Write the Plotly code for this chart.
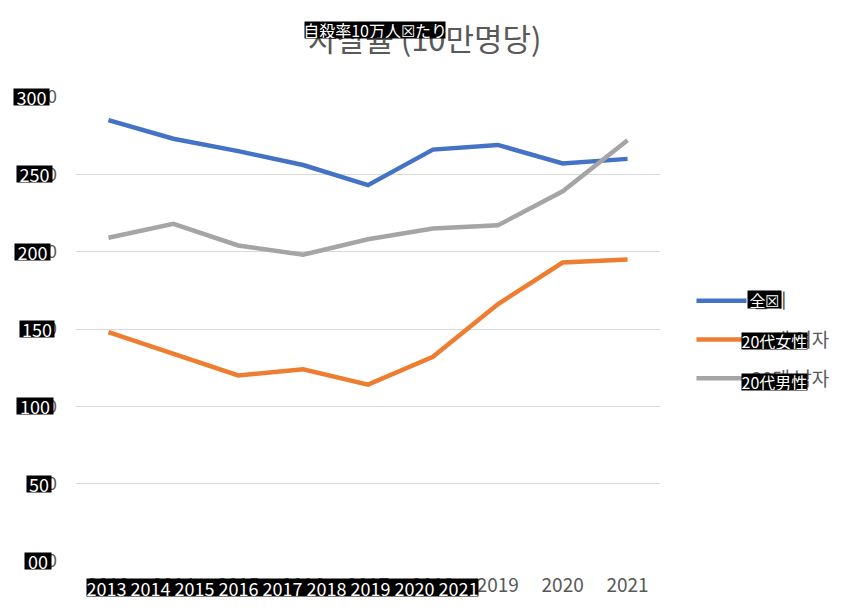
import plotly.graph_objects as go

years = ["2013", "2014", "2015", "2016", "2017", "2018", "2019", "2020", "2021"]
overall = [28.5, 27.3, 26.5, 25.6, 24.3, 26.6, 26.9, 25.7, 26.0]
women20 = [14.8, 13.4, 12.0, 12.4, 11.4, 13.2, 16.6, 19.3, 19.5]
men20 = [20.9, 21.8, 20.4, 19.8, 20.8, 21.5, 21.7, 23.9, 27.2]
series_names = ["전체", "20대 여자", "20대 남자"]
colors = ["#4472C4", "#ED7D31", "#A5A5A5"]
y_ticks = [0, 5, 10, 15, 20, 25, 30]
y_ticktext = ["0.0", "5.0", "10.0", "15.0", "20.0", "25.0", "30.0"]
title_text = "자살률 (10만명당)"

# overlay (translated) texts
ov_title = "自殺率10万人☒たり"
ov_yticks = ["00", "50", "100", "150", "200", "250", "300"]
ov_xticks = "2013 2014 2015 2016 2017 2018 2019 2020 2021"
ov_legend = ["全☒", "20代女性", "20代男性"]

KR = "Noto Sans CJK KR"
JP = "Noto Sans CJK JP"
GRAY = "#595959"

OFF = 8  # page body margin
FW, FH = 850 - OFF, 608 - OFF
# plot area in screen pixels
L, R, T, B = 75.5, 660.5, 97, 561
W = R - L
H = B - T


def px(x):
    return (x - L) / W


def py(y):
    return (B - y) / H


fig = go.Figure()
for i, (name, vals) in enumerate(zip(series_names, [overall, women20, men20])):
    fig.add_trace(go.Scatter(
        x=years, y=vals, mode="lines", name=name,
        line=dict(color=colors[i], width=4.5),
        legendgroup=str(i),
    ))

ann = []


def box(text, x0, x1, y0, y1, size, yval=None):
    d = dict(x=px((x0 + x1) / 2), xref="paper", text=text, showarrow=False,
             xanchor="center", yanchor="middle", width=x1 - x0, height=y1 - y0,
             align="center", valign="middle",
             font=dict(family=JP, size=size, color="white"), bgcolor="black", borderpad=0)
    if yval is None:
        d.update(y=py((y0 + y1) / 2), yref="paper")
    else:
        d.update(y=yval, yref="y")
    ann.append(d)


box(ov_title, 305, 445, 22, 38, 16)
ybox = {"00": (24, 50), "50": (26, 50), "100": (16, 52), "150": (19, 53),
        "200": (14, 49), "250": (16, 51), "300": (13, 48)}
for v, t in zip(y_ticks, ov_yticks):
    x0, x1 = ybox[t]
    box(t, x0, x1, 0, 16, 18, yval=v)
box(ov_xticks, 87, 478, 579, 596, 18)
box(ov_legend[0], 749, 782, 291, 308, 16)
box(ov_legend[1], 743, 808, 333, 349, 16)
box(ov_legend[2], 743, 808, 374, 390, 16)

fig.update_layout(
    width=FW, height=FH,
    margin=dict(l=L - OFF, r=FW - (R - OFF), t=T - OFF, b=FH - (B - OFF), pad=0),
    paper_bgcolor="white", plot_bgcolor="white",
    title=dict(text=title_text, x=px(425), xref="paper", xanchor="center",
               y=1 - (40 - OFF) / FH, yanchor="middle",
               font=dict(family=KR, size=31, color=GRAY)),
    xaxis=dict(type="category", range=[-0.5, 8.5], showgrid=False, showline=False,
               zeroline=False, ticks="",
               tickfont=dict(family=KR, size=19, color=GRAY), ticklabelstandoff=11),
    yaxis=dict(range=[0, 30], tickvals=y_ticks, ticktext=y_ticktext, showgrid=True,
               gridcolor="#D9D9D9", gridwidth=1, zeroline=False, showline=False, ticks="",
               tickfont=dict(family=KR, size=18, color=GRAY), ticklabelstandoff=18),
    showlegend=True,
    legend=dict(x=px(692), y=py(282), xanchor="left", yanchor="top",
                font=dict(family=KR, size=19, color=GRAY), tracegroupgap=11,
                itemwidth=50, bgcolor="rgba(0,0,0,0)"),
    annotations=ann,
)

fig.write_html("out.html")
